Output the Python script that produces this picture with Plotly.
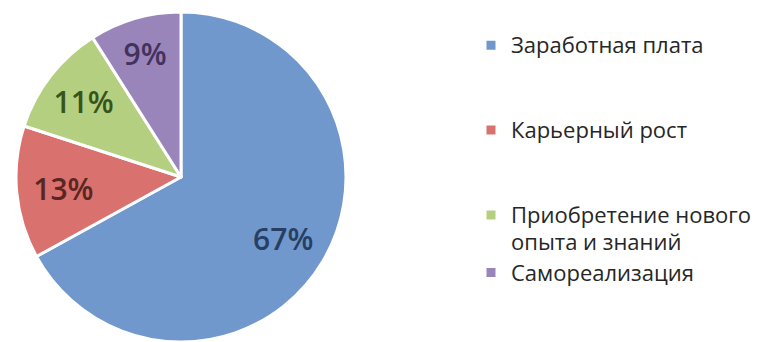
import plotly.graph_objects as go

categories = ["Заработная плата", "Карьерный рост", "Приобретение нового<br>опыта и знаний", "Самореализация"]
values = [67, 13, 11, 9]
slice_colors = ["#7198CD", "#D9716E", "#B4CF80", "#9A85BA"]
label_colors = ["#263F63", "#5A2624", "#37541D", "#42325C"]
legend_pad = ["<br> <br> ", "<br> <br> ", "", ""]

NB = "\u00a0"
pct = "%{percent:.0%}"
text_templates = [NB + "<br>" + NB * 8 + pct, pct, pct, pct]

W, H = 759, 342


def legend_label(cat, pad):
    lines = cat.split("<br>")
    styled = "<br>".join('<span style="font-size:22px">' + ln + "</span>" for ln in lines)
    return styled + pad


fig = go.Figure(
    go.Pie(
        labels=[legend_label(c, p) for c, p in zip(categories, legend_pad)],
        values=values,
        sort=False,
        direction="clockwise",
        rotation=0,
        marker=dict(colors=slice_colors, line=dict(color="white", width=3)),
        texttemplate=text_templates,
        textposition="inside",
        insidetextorientation="horizontal",
        insidetextfont=dict(family="Open Sans", size=30, color=label_colors, weight=600),
        domain=dict(x=[16 / W, 346 / W], y=[0, 0.965]),
        hoverinfo="label+percent",
    )
)

fig.update_layout(
    width=W,
    height=H,
    margin=dict(l=0, r=0, t=0, b=0),
    paper_bgcolor="white",
    plot_bgcolor="white",
    showlegend=True,
    legend=dict(
        x=471 / W,
        y=1 - 25 / H,
        xanchor="left",
        yanchor="top",
        valign="top",
        font=dict(family="Open Sans", size=21, color="#262626"),
        bgcolor="rgba(0,0,0,0)",
        tracegroupgap=0,
    ),
)

fig.write_html("out.html")
